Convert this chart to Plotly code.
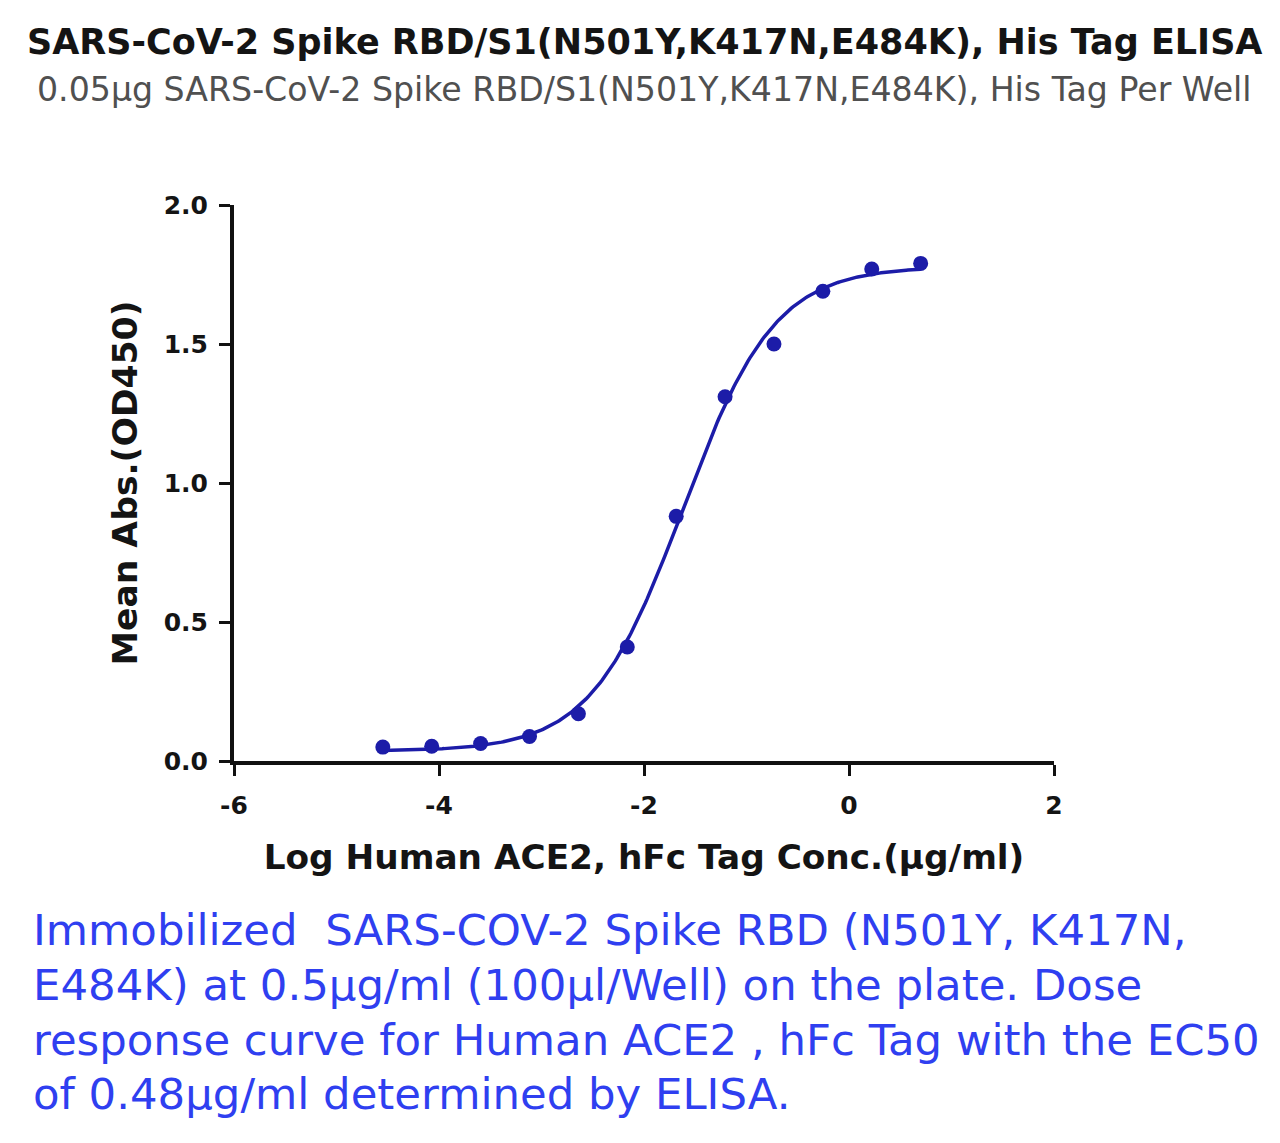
import numpy as np
import plotly.graph_objects as go

# ---- data ----
log_conc = [-4.548, -4.071, -3.594, -3.117, -2.640, -2.163, -1.686, -1.209, -0.732, -0.255, 0.222, 0.699]
mean_abs = [0.050, 0.053, 0.063, 0.088, 0.170, 0.410, 0.880, 1.310, 1.500, 1.690, 1.770, 1.790]

x_ticks = [-6, -4, -2, 0, 2]
y_ticks = [0.0, 0.5, 1.0, 1.5, 2.0]

title_text = "SARS-CoV-2 Spike RBD/S1(N501Y,K417N,E484K), His Tag ELISA"
subtitle_text = "0.05μg SARS-CoV-2 Spike RBD/S1(N501Y,K417N,E484K), His Tag Per Well"
x_title = "Log Human ACE2, hFc Tag Conc.(μg/ml)"
y_title = "Mean Abs.(OD450)"
note_lines = [
    "Immobilized  SARS-COV-2 Spike RBD (N501Y, K417N,",
    "E484K) at 0.5μg/ml (100μl/Well) on the plate. Dose",
    "response curve for Human ACE2 , hFc Tag with the EC50",
    "of 0.48μg/ml determined by ELISA.",
]

# ---- 4-parameter logistic fit of the points (as in the original analysis) ----
xd = np.array(log_conc)
yd = np.array(mean_abs)
best = None
for logec in np.linspace(-2.6, -0.8, 181):
    for hill in np.linspace(0.5, 2.0, 151):
        f = 1.0 / (1.0 + 10 ** ((logec - xd) * hill))
        A = np.column_stack([1 - f, f])
        coef, *_ = np.linalg.lstsq(A, yd, rcond=None)
        res = np.sum((A @ coef - yd) ** 2)
        if best is None or res < best[0]:
            best = (res, logec, hill, coef[0], coef[1])
_, logec, hill, bottom, top = best
xc = np.linspace(min(log_conc), max(log_conc), 300)
yc = bottom + (top - bottom) / (1.0 + 10 ** ((logec - xc) * hill))

blue = "#1c1ca8"
fig = go.Figure()
fig.add_trace(go.Scatter(x=xc, y=yc, mode="lines", line=dict(color=blue, width=3.5),
                         hoverinfo="skip", showlegend=False))
fig.add_trace(go.Scatter(x=log_conc, y=mean_abs, mode="markers",
                         marker=dict(color=blue, size=15), showlegend=False))

# plot area in pixels: x 234..1054, y 205..761
L, R, T, B = 234, 1054, 205, 761
W, H = 1280, 1143
pw, ph = R - L, B - T

def px(xp):
    return (xp - L) / pw

def py(yp):
    return (B - yp) / ph

font_family = "DejaVu Sans, Liberation Sans, Arial, sans-serif"

annotations = [
    dict(text="<b>" + title_text + "</b>", x=px(644), y=py(42), xref="paper", yref="paper",
         xanchor="center", yanchor="middle", showarrow=False,
         font=dict(size=35, color="#141414", family=font_family)),
    dict(text=subtitle_text, x=px(644), y=py(90), xref="paper", yref="paper",
         xanchor="center", yanchor="middle", showarrow=False,
         font=dict(size=33.2, color="#505050", family=font_family)),
]
line_y = [930, 985, 1040, 1094]
for t, yy in zip(note_lines, line_y):
    annotations.append(dict(text=t, x=px(31), y=py(yy), xref="paper", yref="paper",
                            xanchor="left", yanchor="middle", showarrow=False, align="left",
                            font=dict(size=43.4, color="#2f3ff0", family=font_family)))

fig.update_layout(
    width=W, height=H,
    margin=dict(l=L, r=W - R, t=T, b=H - B, pad=0),
    paper_bgcolor="white", plot_bgcolor="white",
    font=dict(family=font_family, color="#141414"),
    annotations=annotations,
    xaxis=dict(range=[-6, 2], tickvals=x_ticks, ticktext=[str(v) for v in x_ticks],
               showgrid=False, zeroline=False, showline=True, linecolor="#111", linewidth=4,
               ticks="outside", ticklen=11, tickwidth=3, tickcolor="#111",
               ticklabelstandoff=8,
               tickfont=dict(size=25, family=font_family, color="#141414", weight="bold"),
               title=dict(text="<b>" + x_title + "</b>", standoff=27,
                          font=dict(size=34.3, family=font_family, color="#141414"))),
    yaxis=dict(range=[0, 2], tickvals=y_ticks, ticktext=["%.1f" % v for v in y_ticks],
               showgrid=False, zeroline=False, showline=True, linecolor="#111", linewidth=4,
               ticks="outside", ticklen=11, tickwidth=3, tickcolor="#111",
               ticklabelstandoff=6,
               tickfont=dict(size=25, family=font_family, color="#141414", weight="bold"),
               title=dict(text="<b>" + y_title + "</b>", standoff=17,
                          font=dict(size=34.6, family=font_family, color="#141414"))),
)

fig.write_html("out.html")
